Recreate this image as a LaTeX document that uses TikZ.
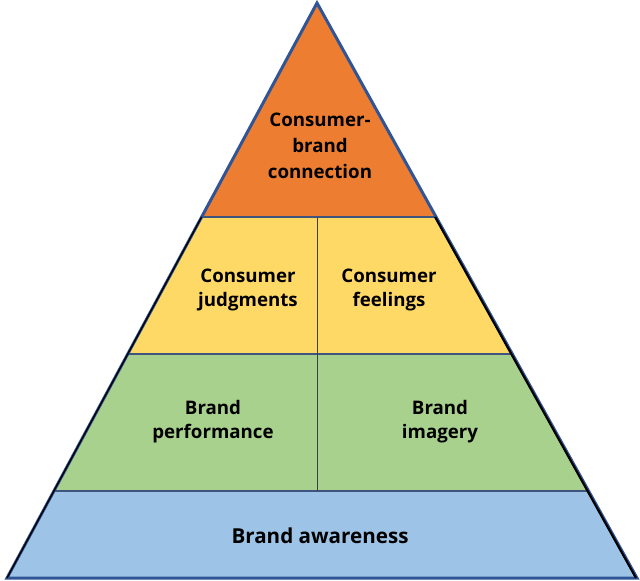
\documentclass[tikz,border=0pt]{standalone}
\usepackage{fontspec}
\setmainfont{Open Sans}
\definecolor{lconnect}{HTML}{ED7D31}
\definecolor{ljudge}{HTML}{FFD966}
\definecolor{lperform}{HTML}{A9D18E}
\definecolor{laware}{HTML}{9DC3E6}
\definecolor{pedge}{HTML}{2F5597}
\definecolor{psep}{HTML}{3F5580}

\begin{document}
\begin{tikzpicture}[
  x=1pt, y=-1pt,
  sep/.style={draw=psep, line width=1.6pt},
  divider/.style={draw=black!75, line width=0.9pt},
  outline/.style={draw=pedge, line width=3pt, line join=miter},
  shade/.style={draw=black, line width=1.4pt},
  blocktext/.style={align=center, inner sep=0pt,
    font=\bfseries\fontsize{18.7}{24}\selectfont},
  toptext/.style={blocktext, font=\bfseries\fontsize{18.7}{26}\selectfont},
  basetext/.style={align=center, inner sep=0pt,
    font=\bfseries\fontsize{20.6}{24}\selectfont},
]
  \useasboundingbox (0,0) rectangle (640,581);

  % corners of the pyramid and the layer edges
  \coordinate (apex) at (317,3);
  \coordinate (bl)   at (7,578);
  \coordinate (br)   at (637,578);
  \coordinate (c1l)  at (201.6,217);
  \coordinate (c1r)  at (436.1,217);
  \coordinate (c2l)  at (127.8,354);
  \coordinate (c2r)  at (512.3,354);
  \coordinate (c3l)  at (53.9,491);
  \coordinate (c3r)  at (588.6,491);
  \coordinate (midtop) at (317,217);
  \coordinate (midbot) at (317,491);

  % layers
  \fill[lconnect] (apex) -- (c1r) -- (c1l) -- cycle;
  \fill[ljudge]   (c1l) -- (c1r) -- (c2r) -- (c2l) -- cycle;
  \fill[lperform] (c2l) -- (c2r) -- (c3r) -- (c3l) -- cycle;
  \fill[laware]   (c3l) -- (c3r) -- (br) -- (bl) -- cycle;

  \draw[sep] (c1l) -- (c1r);
  \draw[sep] (c2l) -- (c2r);
  \draw[sep] (c3l) -- (c3r);
  \draw[divider] (midtop) -- (midbot);

  \draw[outline] (apex) -- (br) -- (bl) -- cycle;
  \draw[shade] (c1l) -- (bl);
  \draw[shade, line width=2.2pt] ([xshift=-1pt]c1r) -- ([xshift=-1pt]br);

  % texts
  \node[toptext]   (connection)  at (320,146)   {Consumer-\\brand\\connection};
  \node[blocktext] (judgments)   at (248,290)   {Consumer\\judgments};
  \node[blocktext] (feelings)    at (389,290)   {Consumer\\feelings};
  \node[blocktext] (performance) at (213,421.5) {Brand\\performance};
  \node[blocktext] (imagery)     at (440,421.5) {Brand\\imagery};
  \node[basetext]  (awareness)   at (320,535.5) {Brand awareness};
\end{tikzpicture}
\end{document}
